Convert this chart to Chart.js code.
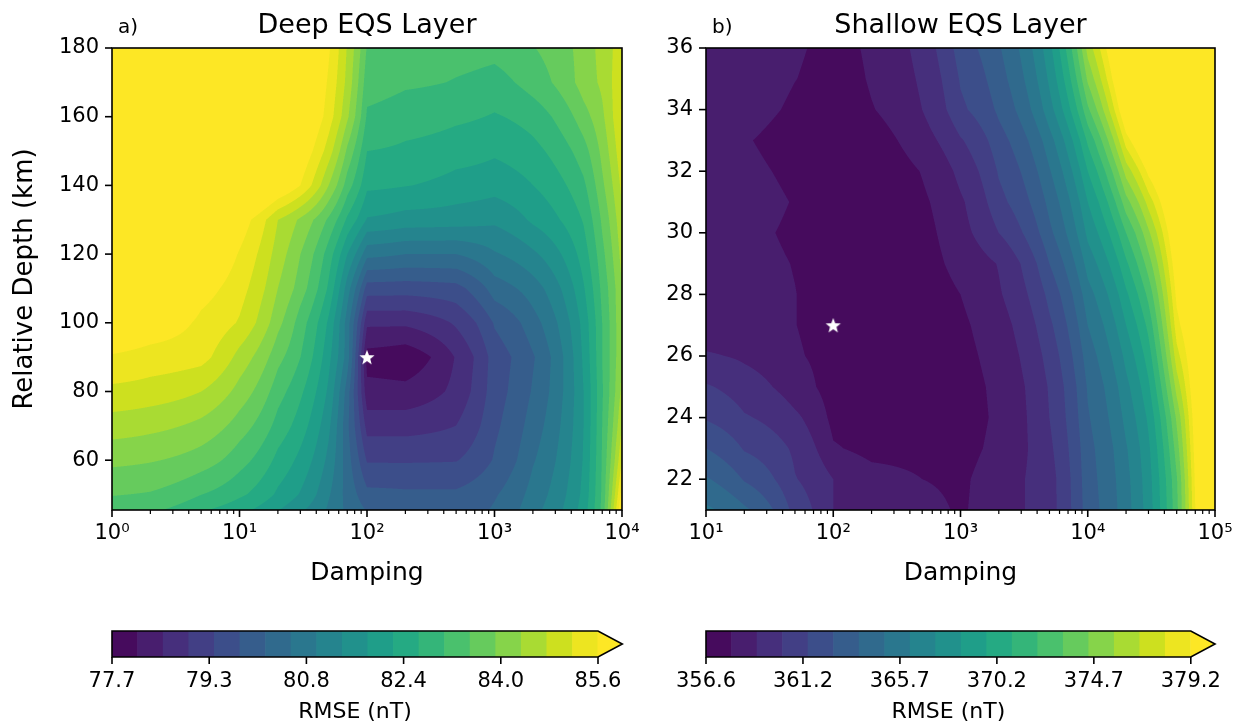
<!DOCTYPE html>
<html><head><meta charset="utf-8">
<script src="https://cdn.jsdelivr.net/npm/chart.js@4.4.1/dist/chart.umd.min.js"></script>
<style>
html,body{margin:0;padding:0;background:#fff;}
#wrap{position:relative;width:1246px;height:726px;overflow:hidden;background:#fff;}
canvas{position:absolute;}
</style></head><body>
<div id="wrap">
<canvas id="cA" style="left:0px;top:0px" width="680" height="600"></canvas>
<canvas id="cB" style="left:623px;top:0px" width="623" height="600"></canvas>
<canvas id="cbA" style="left:0px;top:600px" width="640" height="126"></canvas>
<canvas id="cbB" style="left:623px;top:600px" width="623" height="126"></canvas>
</div>
<script>
// ---------------- DATA ----------------
const DEEP_TITLE = 'Deep EQS Layer';
const DEEP_DAMPING = [1, 2, 5, 10, 20, 30, 50, 70, 100, 200, 500, 1000, 2000, 5000, 7000, 10000];
const DEEP_DEPTH = [45, 50, 60, 70, 80, 90, 100, 110, 120, 130, 140, 150, 160, 170, 180];
const DEEP_RMSE = [
  [83.31, 83.15, 82.69, 82.36, 81.84, 81.48, 80.94, 80.51, 80.19, 80.03, 79.99, 80.26, 80.90, 82.07, 83.23, 86.22],
  [83.54, 83.48, 83.11, 82.77, 82.19, 81.82, 81.07, 80.44, 79.90, 79.86, 79.86, 80.15, 80.78, 81.98, 83.19, 85.81],
  [84.04, 83.97, 83.73, 83.27, 82.56, 82.15, 81.32, 80.36, 79.32, 79.32, 79.34, 79.82, 80.57, 81.90, 83.15, 85.18],
  [84.56, 84.47, 84.23, 83.73, 82.94, 82.48, 81.53, 80.28, 78.78, 78.78, 78.95, 79.70, 80.40, 81.86, 83.11, 84.77],
  [85.08, 85.00, 84.77, 84.19, 83.27, 82.77, 81.77, 80.40, 78.24, 78.24, 78.66, 79.61, 80.24, 81.86, 83.06, 84.48],
  [85.56, 85.43, 85.33, 84.61, 83.65, 83.11, 81.98, 80.82, 77.95, 77.82, 78.57, 79.57, 80.15, 81.94, 83.11, 84.35],
  [86.02, 85.89, 85.50, 85.14, 84.06, 83.31, 82.19, 80.82, 78.61, 78.61, 79.01, 79.82, 80.44, 82.02, 83.11, 84.35],
  [86.43, 86.35, 85.77, 85.35, 84.35, 83.73, 82.61, 81.23, 79.57, 79.55, 79.63, 80.40, 80.82, 82.23, 83.23, 84.35],
  [86.85, 86.76, 86.10, 85.56, 84.56, 83.94, 82.90, 81.86, 80.74, 80.61, 80.61, 80.98, 81.36, 82.48, 83.40, 84.52],
  [87.26, 87.18, 86.64, 85.85, 84.77, 84.27, 83.44, 82.61, 81.82, 81.69, 81.65, 81.53, 81.94, 82.73, 83.60, 84.69],
  [87.68, 87.60, 87.26, 86.85, 86.14, 85.60, 84.35, 83.31, 82.36, 82.29, 82.11, 82.02, 82.27, 83.02, 83.85, 84.89],
  [87.89, 87.80, 87.47, 87.06, 86.43, 85.97, 84.98, 83.85, 82.69, 82.61, 82.46, 82.34, 82.56, 83.35, 84.06, 85.10],
  [88.09, 88.01, 87.68, 87.26, 86.72, 86.27, 85.40, 84.43, 83.04, 82.88, 82.77, 82.65, 82.86, 83.77, 84.27, 85.27],
  [88.30, 88.22, 87.89, 87.47, 86.85, 86.39, 85.53, 84.64, 83.27, 83.17, 83.08, 82.96, 83.29, 84.14, 84.44, 85.18],
  [88.51, 88.43, 88.09, 87.68, 87.06, 86.56, 85.66, 84.73, 83.48, 83.31, 83.25, 83.23, 83.50, 84.12, 84.52, 85.02]
];
const DEEP_RANGE = [77.7, 85.6];
const DEEP_CB_TICKS = ['77.7', '79.3', '80.8', '82.4', '84.0', '85.6'];
const DEEP_BEST = [100, 90];
const DEEP_X_TICKS = [1, 10, 100, 1000, 10000];
const DEEP_Y_TICKS = [60, 80, 100, 120, 140, 160, 180];
const DEEP_Y_RANGE = [45.5, 180];

const SHALLOW_TITLE = 'Shallow EQS Layer';
const SHALLOW_DAMPING = [10, 20, 50, 100, 200, 500, 1000, 2000, 5000, 10000, 20000, 30000, 50000, 70000, 100000];
const SHALLOW_DEPTH = [21, 22, 23, 24, 25, 26, 27, 28, 29, 30, 31, 32, 33, 34, 35, 36];
const SHALLOW_RMSE = [
  [365.16, 363.97, 360.88, 358.98, 358.50, 358.03, 357.67, 358.50, 359.69, 363.14, 365.64, 367.90, 372.90, 379.20, 385.15],
  [363.86, 362.43, 360.23, 358.98, 358.38, 357.79, 357.61, 358.50, 359.69, 363.26, 365.76, 368.02, 373.13, 379.44, 385.15],
  [362.55, 361.24, 359.93, 357.91, 357.31, 357.14, 357.43, 358.15, 359.93, 363.38, 366.00, 368.26, 373.85, 379.79, 384.55],
  [361.24, 360.29, 359.22, 357.43, 357.02, 356.96, 357.31, 358.03, 360.17, 363.62, 366.47, 368.73, 374.68, 380.15, 384.55],
  [360.29, 359.51, 358.32, 357.19, 356.96, 356.96, 357.37, 358.09, 360.29, 363.86, 366.95, 369.45, 376.11, 380.63, 383.96],
  [359.10, 358.80, 357.91, 357.31, 357.02, 357.02, 357.49, 358.27, 360.64, 364.33, 367.66, 370.28, 377.53, 380.98, 383.96],
  [358.32, 358.15, 357.81, 357.19, 356.96, 357.08, 357.61, 358.50, 361.12, 364.93, 368.49, 371.23, 378.72, 381.58, 383.96],
  [358.27, 358.09, 357.81, 357.19, 356.96, 357.14, 357.79, 358.86, 361.71, 365.64, 369.45, 372.42, 379.56, 382.17, 383.96],
  [358.21, 358.03, 357.75, 357.14, 356.96, 357.31, 358.27, 359.05, 362.55, 366.59, 370.64, 373.85, 380.39, 382.77, 384.55],
  [358.15, 357.97, 357.61, 357.19, 357.08, 357.43, 358.62, 360.17, 363.46, 367.60, 372.06, 375.39, 381.34, 383.36, 385.15],
  [358.27, 358.09, 357.73, 357.14, 356.96, 357.61, 358.80, 361.00, 364.09, 368.49, 373.97, 377.30, 382.53, 384.55, 386.34],
  [358.21, 357.97, 357.55, 357.08, 357.08, 357.85, 359.34, 361.48, 364.81, 369.68, 376.11, 379.56, 383.96, 385.74, 387.53],
  [358.21, 357.85, 357.31, 357.08, 357.31, 358.50, 360.05, 362.07, 365.64, 371.11, 378.61, 382.17, 385.74, 387.53, 388.72],
  [358.32, 358.09, 357.61, 357.19, 357.73, 358.98, 361.12, 362.79, 366.83, 373.01, 381.10, 384.55, 387.53, 388.72, 389.91],
  [358.38, 358.21, 357.81, 357.31, 357.91, 359.22, 361.48, 363.26, 367.54, 374.68, 382.77, 385.74, 388.12, 389.31, 390.50],
  [358.38, 358.21, 357.91, 357.43, 358.00, 359.48, 361.95, 363.62, 368.14, 376.11, 383.96, 386.34, 388.72, 389.91, 391.10]
];
const SHALLOW_RANGE = [356.6, 379.2];
const SHALLOW_CB_TICKS = ['356.6', '361.2', '365.7', '370.2', '374.7', '379.2'];
const SHALLOW_BEST = [100, 27];
const SHALLOW_X_TICKS = [10, 100, 1000, 10000, 100000];
const SHALLOW_Y_TICKS = [22, 24, 26, 28, 30, 32, 34, 36];
const SHALLOW_Y_RANGE = [21, 36];

const N_BANDS = 19;
const FONT = 'DejaVu Sans';
const TICK_PX = 21, XLABEL_PX = 25, YLABEL_PX = 26, TITLE_PX = 27;

// ---------------- helpers ----------------
const VIRIDIS = ['#440154','#48186a','#472d7b','#424086','#3b528b','#33638d','#2c728e','#26828e','#21918c','#1fa088','#28ae80','#3fbc73','#5ec962','#84d44b','#addc30','#d8e219','#fde725'];
function hexRgb(h){return [parseInt(h.substr(1,2),16),parseInt(h.substr(3,2),16),parseInt(h.substr(5,2),16)];}
const VIR_RGB = VIRIDIS.map(hexRgb);
function viridis(t){
  t = Math.max(0, Math.min(1, t));
  const n = VIR_RGB.length - 1, f = t * n;
  const i = Math.min(n - 1, Math.floor(f)), u = f - i;
  const a = VIR_RGB[i], b = VIR_RGB[i + 1];
  return [a[0] + (b[0] - a[0]) * u, a[1] + (b[1] - a[1]) * u, a[2] + (b[2] - a[2]) * u];
}
const BAND_RGB = [];
for (let k = 0; k < N_BANDS; k++) BAND_RGB.push(viridis((k + 0.5) / N_BANDS));
BAND_RGB.push(viridis(1));
const rgbStr = c => 'rgb(' + c.map(v => Math.round(v)).join(',') + ')';

function locate(arr, v){
  const n = arr.length;
  if (v <= arr[0]) return [0, 0];
  if (v >= arr[n - 1]) return [n - 2, 1];
  let lo = 0, hi = n - 1;
  while (hi - lo > 1){ const m = (lo + hi) >> 1; if (arr[m] <= v) lo = m; else hi = m; }
  return [lo, (v - arr[lo]) / (arr[lo + 1] - arr[lo])];
}
const SUP = ['\u2070','\u00b9','\u00b2','\u00b3','\u2074','\u2075','\u2076','\u2077','\u2078','\u2079'];
function pow10Label(v){ return '10' + SUP[Math.round(Math.log10(v))]; }

function makeStar(){
  const c = document.createElement('canvas'); c.width = 18; c.height = 18;
  const g = c.getContext('2d'); g.fillStyle = '#fff'; g.beginPath();
  for (let i = 0; i < 10; i++){
    const r = i % 2 ? 3.4 : 8.0, a = -Math.PI / 2 + i * Math.PI / 5;
    const x = 9 + r * Math.cos(a), y = 9.7 + r * Math.sin(a);
    i ? g.lineTo(x, y) : g.moveTo(x, y);
  }
  g.closePath(); g.fill();
  return c;
}
const STAR = makeStar();

function contourPlugin(X, Y, Z, range){
  return { id: 'contourFill', beforeDatasetsDraw(chart){
    const {ctx, chartArea: a, scales} = chart;
    const xs = scales.x, ys = scales.y;
    const L = Math.round(a.left), T = Math.round(a.top);
    const W = Math.round(a.right) - L, H = Math.round(a.bottom) - T;
    const img = ctx.createImageData(W, H);
    const S = 3, step = (range[1] - range[0]) / N_BANDS;
    const xl = [], yl = [];
    for (let i = 0; i < W * S; i++) xl.push(locate(X, xs.getValueForPixel(L + (i + 0.5) / S)));
    for (let j = 0; j < H * S; j++) yl.push(locate(Y, ys.getValueForPixel(T + (j + 0.5) / S)));
    for (let j = 0; j < H; j++){
      for (let i = 0; i < W; i++){
        let r = 0, g = 0, b = 0;
        for (let sj = 0; sj < S; sj++){
          const yv = yl[j * S + sj], r0 = Z[yv[0]], r1 = Z[yv[0] + 1], ty = yv[1];
          for (let si = 0; si < S; si++){
            const xv = xl[i * S + si], xi = xv[0], tx = xv[1];
            const v = (r0[xi] * (1 - tx) + r0[xi + 1] * tx) * (1 - ty) + (r1[xi] * (1 - tx) + r1[xi + 1] * tx) * ty;
            let k = Math.floor((v - range[0]) / step);
            if (k < 0) k = 0; if (k > N_BANDS) k = N_BANDS;
            const c = BAND_RGB[k]; r += c[0]; g += c[1]; b += c[2];
          }
        }
        const o = (j * W + i) * 4, n = S * S;
        img.data[o] = r / n; img.data[o + 1] = g / n; img.data[o + 2] = b / n; img.data[o + 3] = 255;
      }
    }
    ctx.putImageData(img, L, T);
  }};
}

function framePlugin(title, letter, xMin, xMax, yTicks){
  return { id: 'frame', afterDraw(chart){
    const {ctx, chartArea: a, scales} = chart;
    ctx.save();
    ctx.strokeStyle = '#000';
    const lo = Math.round(Math.log10(xMin)), hi = Math.round(Math.log10(xMax));
    for (let e = lo; e <= hi; e++){
      for (let m = 1; m <= 9; m++){
        const v = m * Math.pow(10, e);
        if (v > xMax * 1.0001) break;
        const px = scales.x.getPixelForValue(v);
        const major = m === 1;
        ctx.lineWidth = major ? 1.6 : 1.2;
        ctx.beginPath(); ctx.moveTo(px, a.bottom); ctx.lineTo(px, a.bottom + (major ? 7 : 4)); ctx.stroke();
      }
    }
    ctx.lineWidth = 1.6;
    yTicks.forEach(v => {
      const py = scales.y.getPixelForValue(v);
      ctx.beginPath(); ctx.moveTo(a.left, py); ctx.lineTo(a.left - 7, py); ctx.stroke();
    });
    ctx.strokeRect(a.left, a.top, a.right - a.left, a.bottom - a.top);
    ctx.fillStyle = '#000';
    ctx.textBaseline = 'alphabetic';
    ctx.font = TITLE_PX + 'px "' + FONT + '"';
    ctx.textAlign = 'center';
    ctx.fillText(title, (a.left + a.right) / 2, 33);
    ctx.font = '20px "' + FONT + '"';
    ctx.textAlign = 'left';
    ctx.fillText(letter, a.left + 6, 33);
    ctx.restore();
  }};
}

function mainChart(id, cfg){
  return new Chart(document.getElementById(id), {
    type: 'scatter',
    data: { datasets: [{ data: [{x: cfg.best[0], y: cfg.best[1]}], pointStyle: STAR, pointRadius: 9, clip: false }] },
    options: {
      responsive: false, animation: false, devicePixelRatio: 1,
      layout: { padding: { left: 0, right: cfg.padRight, top: 48, bottom: 0 } },
      plugins: { legend: { display: false }, tooltip: { enabled: false } },
      scales: {
        x: {
          type: 'logarithmic', min: cfg.xMin, max: cfg.xMax,
          afterBuildTicks: s => { s.ticks = cfg.xTicks.map(v => ({ value: v, major: true })); },
          ticks: { callback: v => pow10Label(v), font: { family: FONT, size: TICK_PX }, color: '#000', padding: 11, autoSkip: false, maxRotation: 0 },
          grid: { display: false, drawTicks: false }, border: { display: false },
          title: { display: true, text: 'Damping', color: '#000', font: { family: FONT, size: XLABEL_PX, lineHeight: 1 }, padding: { top: 0, bottom: 14 } },
          afterFit: s => { s.height = 90; }
        },
        y: {
          type: 'linear', min: cfg.yRange[0], max: cfg.yRange[1],
          afterBuildTicks: s => { s.ticks = cfg.yTicks.map(v => ({ value: v })); },
          ticks: { callback: v => String(v), font: { family: FONT, size: TICK_PX }, color: '#000', padding: 13, autoSkip: false },
          grid: { display: false, drawTicks: false }, border: { display: false },
          title: { display: !!cfg.yTitle, text: cfg.yTitle || '', color: '#000', font: { family: FONT, size: YLABEL_PX, lineHeight: 1 }, padding: { top: 12, bottom: 0 } },
          afterFit: s => { s.width = cfg.yWidth; }
        }
      }
    },
    plugins: [contourPlugin(cfg.X, cfg.Y, cfg.Z, cfg.range), framePlugin(cfg.title, cfg.letter, cfg.xMin, cfg.xMax, cfg.yTicks)]
  });
}

function colorbar(id, range, labels, padLeft, padRight){
  const lev = [];
  for (let k = 0; k <= N_BANDS; k++) lev.push(range[0] + (range[1] - range[0]) * k / N_BANDS);
  const tickVals = labels.map((_, i) => range[0] + (range[1] - range[0]) * i / (labels.length - 1));
  const bands = [];
  for (let k = 0; k < N_BANDS; k++) bands.push({ x: [lev[k], lev[k + 1]], y: 'cb' });
  const extPlugin = { id: 'cbExt', afterDatasetsDraw(chart){
    const {ctx, chartArea: a, scales} = chart;
    const w = a.right - a.left, tip = a.right + 0.05 * w, mid = (a.top + a.bottom) / 2;
    ctx.save();
    ctx.fillStyle = rgbStr(BAND_RGB[N_BANDS]);
    ctx.beginPath(); ctx.moveTo(a.right - 0.5, a.top); ctx.lineTo(tip, mid); ctx.lineTo(a.right - 0.5, a.bottom); ctx.closePath(); ctx.fill();
    ctx.strokeStyle = '#000'; ctx.lineWidth = 1.6;
    ctx.beginPath(); ctx.moveTo(a.left, a.top); ctx.lineTo(a.right, a.top); ctx.lineTo(tip, mid); ctx.lineTo(a.right, a.bottom); ctx.lineTo(a.left, a.bottom); ctx.closePath(); ctx.stroke();
    tickVals.forEach(v => { const px = scales.x.getPixelForValue(v); ctx.beginPath(); ctx.moveTo(px, a.bottom); ctx.lineTo(px, a.bottom + 7); ctx.stroke(); });
    ctx.restore();
  }};
  return new Chart(document.getElementById(id), {
    type: 'bar',
    data: { datasets: [{ data: bands, backgroundColor: BAND_RGB.slice(0, N_BANDS).map(rgbStr), borderWidth: 0, barPercentage: 1, categoryPercentage: 1, grouped: false }] },
    options: {
      indexAxis: 'y', responsive: false, animation: false, devicePixelRatio: 1,
      layout: { padding: { left: padLeft, right: padRight, top: 31, bottom: 0 } },
      plugins: { legend: { display: false }, tooltip: { enabled: false } },
      scales: {
        x: {
          type: 'linear', min: range[0], max: range[1],
          afterBuildTicks: s => { s.ticks = tickVals.map(v => ({ value: v })); },
          ticks: { callback: (v, i) => labels[i], font: { family: FONT, size: TICK_PX }, color: '#000', padding: 12, autoSkip: false, maxRotation: 0 },
          grid: { display: false, drawTicks: false }, border: { display: false },
          title: { display: true, text: 'RMSE (nT)', color: '#000', font: { family: FONT, size: 22, lineHeight: 1 }, padding: { top: 0, bottom: 3 } },
          afterFit: s => { s.height = 69; }
        },
        y: { type: 'category', labels: ['cb'], display: false }
      }
    },
    plugins: [extPlugin]
  });
}

mainChart('cA', { X: DEEP_DAMPING, Y: DEEP_DEPTH, Z: DEEP_RMSE, range: DEEP_RANGE, best: DEEP_BEST,
  xMin: 1, xMax: 10000, xTicks: DEEP_X_TICKS, yTicks: DEEP_Y_TICKS, yRange: DEEP_Y_RANGE,
  yTitle: 'Relative Depth (km)', yWidth: 112, padRight: 58, title: DEEP_TITLE, letter: 'a)' });
mainChart('cB', { X: SHALLOW_DAMPING, Y: SHALLOW_DEPTH, Z: SHALLOW_RMSE, range: SHALLOW_RANGE, best: SHALLOW_BEST,
  xMin: 10, xMax: 100000, xTicks: SHALLOW_X_TICKS, yTicks: SHALLOW_Y_TICKS, yRange: SHALLOW_Y_RANGE,
  yTitle: '', yWidth: 83, padRight: 31, title: SHALLOW_TITLE, letter: 'b)' });
colorbar('cbA', DEEP_RANGE, DEEP_CB_TICKS, 112, 42);
colorbar('cbB', SHALLOW_RANGE, SHALLOW_CB_TICKS, 83, 55.2);
</script>
</body></html>
